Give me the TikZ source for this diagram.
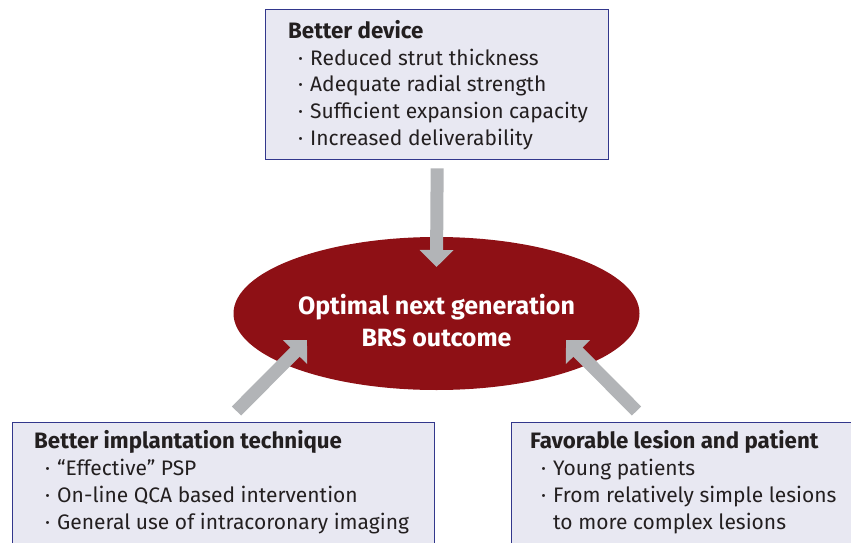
\documentclass[tikz,border=0pt]{standalone}
\usepackage{fontspec}
\setmainfont{Fira Sans}
\usetikzlibrary{arrows.meta,calc}
\definecolor{boxfill}{RGB}{232,232,242}
\definecolor{boxline}{RGB}{50,55,140}
\definecolor{ellred}{RGB}{142,16,21}
\definecolor{arrgray}{RGB}{178,180,183}
\definecolor{txt}{RGB}{35,31,32}
\tikzset{
  box/.style={draw=boxline, fill=boxfill, line width=1.3pt, anchor=north west, inner sep=0pt},
  ttl/.style={anchor=base west, inner sep=0pt, text=txt, font=\fontsize{22.3}{26}\selectfont\bfseries},
  itm/.style={anchor=base west, inner sep=0pt, text=txt, font=\fontsize{21}{25}\selectfont},
  bul/.style={anchor=base west, inner sep=0pt, text=txt, font=\fontsize{21}{25}\selectfont},
  bigarrow/.style={draw=arrgray, line width=13pt, -{Triangle[length=17pt,width=33pt]}},
  ctr/.style={text=white, font=\fontsize{25}{32}\selectfont\bfseries, align=center, inner sep=0pt}
}
\begin{document}
\begin{tikzpicture}[x=1pt,y=-1pt]
\useasboundingbox (0,0) rectangle (851,543);
\clip (0,0) rectangle (851,543);
% boxes
\node[box, minimum width=343pt, minimum height=150pt] (dev) at (265,9) {};
\node[box, minimum width=422pt, minimum height=200pt] (imp) at (12,422) {};
\node[box, minimum width=400pt, minimum height=200pt] (les) at (511,422) {};
% ellipse
\fill[ellred] (436.5,313.5) ellipse [x radius=203, y radius=76.5];
\coordinate (ell) at (436.5,313.5);
\node[ctr] (out) at (436.5,321) {Optimal next generation\\BRS outcome};
% top box text
\node[ttl] (dt) at (288,38.5) {Better device};
\node[bul] (db1) at (298,65.2) {·};
\node[itm] (d1) at (310,65.2) {Reduced strut thickness};
\node[bul] (db2) at (298,91.9) {·};
\node[itm] (d2) at (310,91.9) {Adequate radial strength};
\node[bul] (db3) at (298,118.6) {·};
\node[itm] (d3) at (310,118.6) {Sufficient expansion capacity};
\node[bul] (db4) at (298,145.3) {·};
\node[itm] (d4) at (310,145.3) {Increased deliverability};
% bottom left text
\node[ttl] (it) at (34,448.5) {Better implantation technique};
\node[bul] (ib1) at (45,475.5) {·};
\node[itm] (i1) at (57,475.5) {“Effective” PSP};
\node[bul] (ib2) at (45,502.5) {·};
\node[itm] (i2) at (57,502.5) {On-line QCA based intervention};
\node[bul] (ib3) at (45,529.5) {·};
\node[itm] (i3) at (57,529.5) {General use of intracoronary imaging};
% bottom right text
\node[ttl] (lt) at (530,448.5) {Favorable lesion and patient};
\node[bul] (lb1) at (541,475.5) {·};
\node[itm] (l1) at (553,475.5) {Young patients};
\node[bul] (lb2) at (541,502.5) {·};
\node[itm] (l2) at (553,502.5) {From relatively simple lesions};
\node[itm] (l3) at (553,529.5) {to more complex lesions};
% arrows
\coordinate (a1s) at ($(dev.south)+(0,8)$);
\coordinate (a1e) at ($(ell)+(0,-46.5)$);
\coordinate (a2s) at (236.5,411);
\coordinate (a2e) at (307,340);
\coordinate (a3s) at (636.5,411);
\coordinate (a3e) at (566,340);
\draw[bigarrow] (a1s) -- (a1e);
\draw[bigarrow] (a2s) -- (a2e);
\draw[bigarrow] (a3s) -- (a3e);
\end{tikzpicture}
\end{document}
